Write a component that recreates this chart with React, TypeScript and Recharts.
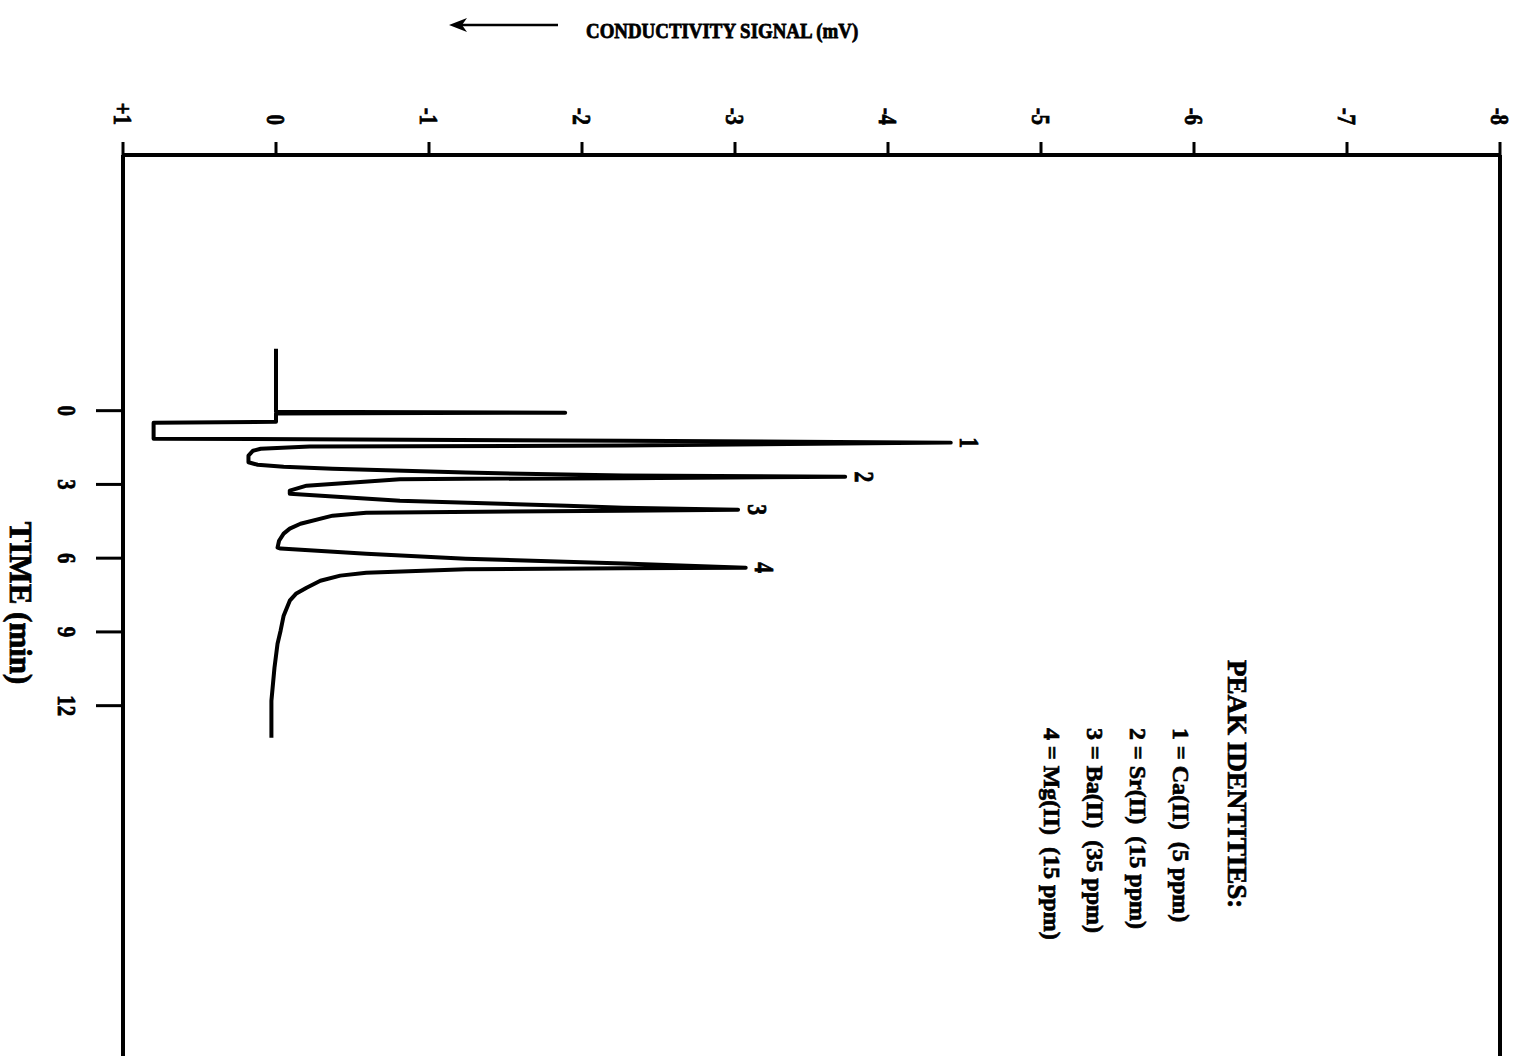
import { LineChart, Line, XAxis, YAxis, ReferenceLine, LabelList } from 'recharts'

// retention time (min) and conductivity signal (mV) in order
const TIME = [
  -2.52, 0.04, 0.08, 0.12, 0.45, 0.49, 1.14, 1.22, 1.3, 1.42, 1.46, 1.55, 1.63, 1.83, 2.1, 2.2, 2.28,
  2.36, 2.52, 2.64, 2.69, 2.75, 2.77, 2.79, 3.05, 3.25, 3.38, 3.66, 3.87, 3.95, 4.03, 4.07, 4.15, 4.27,
  4.6, 4.8, 5.0, 5.29, 5.57, 5.61, 5.82, 6.02, 6.22, 6.39, 6.41, 6.45, 6.59, 6.71, 6.92, 7.2, 7.45,
  7.73, 8.34, 8.95, 9.48, 10.46, 11.8, 13.3
]
const SIGNAL = [
  0, 0, -1.89, 0, 0, 0.8, 0.8, -2.27, -4.41, -2.27, -0.22, 0.1, 0.15, 0.18, 0.18, 0.12, -0.05, -0.37,
  -1.24, -2.27, -3.72, -2.27, -1.24, -0.81, -0.2, -0.09, -0.09, -0.81, -1.9, -2.27, -3.02, -2.27, -0.59,
  -0.37, -0.16, -0.09, -0.05, -0.02, -0.01, -0.03, -0.59, -1.24, -2.27, -3.07, -2.27, -1.24, -0.59, -0.42,
  -0.29, -0.2, -0.13, -0.09, -0.05, -0.03, -0.01, 0.01, 0.03, 0.03
]

// peak numbers and the time where each one tops out
const PEAK_IDS = ['1', '2', '3', '4']
const PEAK_TIMES = [1.3, 2.69, 4.03, 6.39]
const PEAK_NAMES = [
  '1 = Ca(II)  (5 ppm)',
  '2 = Sr(II)  (15 ppm)',
  '3 = Ba(II)  (35 ppm)',
  '4 = Mg(II)  (15 ppm)'
]

const SIGNAL_TICKS = [1, 0, -1, -2, -3, -4, -5, -6, -7, -8]
const TIME_TICKS = [0, 3, 6, 9, 12]

const FONT = '"Liberation Serif", "Times New Roman", serif'

const rows = TIME.map((t, i) => ({
  t,
  s: SIGNAL[i],
  peak: PEAK_IDS[PEAK_TIMES.indexOf(t)]
}))

// heavy type: bold face plus a thin outline
const INK = { fill: '#000', stroke: '#000', strokeWidth: 0.8 }

// labels are turned a quarter turn clockwise and squeezed along the text
const TurnedText = ({ x, y, anchor, size, children }: any) => (
  <text
    x={0}
    y={0}
    transform={`translate(${x} ${y}) rotate(90) scale(0.8 1)`}
    textAnchor={anchor}
    dominantBaseline='central'
    fontFamily={FONT}
    fontWeight='bold'
    fontSize={size}
    {...INK}
  >
    {children}
  </text>
)

const SignalTick = (props: any) => {
  const { x, y, payload } = props
  const v = payload.value
  return (
    <TurnedText x={x} y={y} anchor='end' size={26}>
      {v > 0 ? `+${v}` : `${v}`}
    </TurnedText>
  )
}

const TimeTick = (props: any) => {
  const { x, y, payload } = props
  return (
    <TurnedText x={x} y={y} anchor='middle' size={26}>
      {payload.value}
    </TurnedText>
  )
}

const PeakLabel = (props: any) => {
  const { x, y, value } = props
  if (!value) return null
  return (
    <TurnedText x={x + 19} y={y} anchor='middle' size={27}>
      {value}
    </TurnedText>
  )
}

const SignalTitle = () => (
  <g>
    <line x1={460} y1={25} x2={558} y2={25} stroke='#000' strokeWidth={2.5} />
    <path d='M449 25 L467 18 L462 25 L467 32 Z' fill='#000' />
    <text
      x={0}
      y={0}
      transform='translate(586 38) scale(0.9 1)'
      fontFamily={FONT}
      fontWeight='bold'
      fontSize={21}
      {...INK}
    >
      CONDUCTIVITY SIGNAL (mV)
    </text>
  </g>
)

const TimeTitle = () => (
  <text
    x={20}
    y={603}
    transform='rotate(90 20 603)'
    textAnchor='middle'
    dominantBaseline='central'
    fontFamily={FONT}
    fontWeight='bold'
    fontSize={31}
    {...INK}
  >
    TIME (min)
  </text>
)

export default function App () {
  return (
    <div
      style={{
        position: 'absolute',
        left: 0,
        top: 0,
        width: 1519,
        height: 1056,
        overflow: 'hidden',
        background: '#fff'
      }}
    >
      <LineChart
        layout='vertical'
        width={1519}
        height={1099}
        data={rows}
        margin={{ top: 0, right: 19, bottom: 0, left: 0 }}
      >
        <XAxis
          type='number'
          orientation='top'
          domain={[-8, 1]}
          reversed
          ticks={SIGNAL_TICKS}
          interval={0}
          height={155}
          tickSize={13}
          tickMargin={17}
          axisLine={{ stroke: '#000', strokeWidth: 4 }}
          tickLine={{ stroke: '#000', strokeWidth: 3 }}
          tick={SignalTick}
          label={SignalTitle}
        />
        <YAxis
          type='number'
          dataKey='t'
          domain={[-10.4, 28]}
          ticks={TIME_TICKS}
          interval={0}
          width={123}
          tickSize={27}
          tickMargin={29}
          axisLine={{ stroke: '#000', strokeWidth: 4 }}
          tickLine={{ stroke: '#000', strokeWidth: 3 }}
          tick={TimeTick}
          label={TimeTitle}
        />
        <ReferenceLine x={-8} stroke='#000' strokeWidth={4} />
        <Line
          type='linear'
          dataKey='s'
          stroke='#000'
          strokeWidth={4}
          strokeLinejoin='round'
          dot={false}
          isAnimationActive={false}
        >
          <LabelList dataKey='peak' content={PeakLabel} />
        </Line>
      </LineChart>

      <div
        style={{
          position: 'absolute',
          left: 1255,
          top: 660,
          transform: 'rotate(90deg)',
          transformOrigin: '0 0',
          fontFamily: FONT,
          fontWeight: 'bold',
          whiteSpace: 'pre',
          color: '#000',
          WebkitTextStroke: '0.7px #000'
        }}
      >
        <div style={{ fontSize: 27, lineHeight: '36px' }}>PEAK IDENTITIES:</div>
        <div style={{ marginLeft: 68, marginTop: 17, fontSize: 24, lineHeight: '43px' }}>
          {PEAK_NAMES.map(n => (
            <div key={n}>{n}</div>
          ))}
        </div>
      </div>
    </div>
  )
}
